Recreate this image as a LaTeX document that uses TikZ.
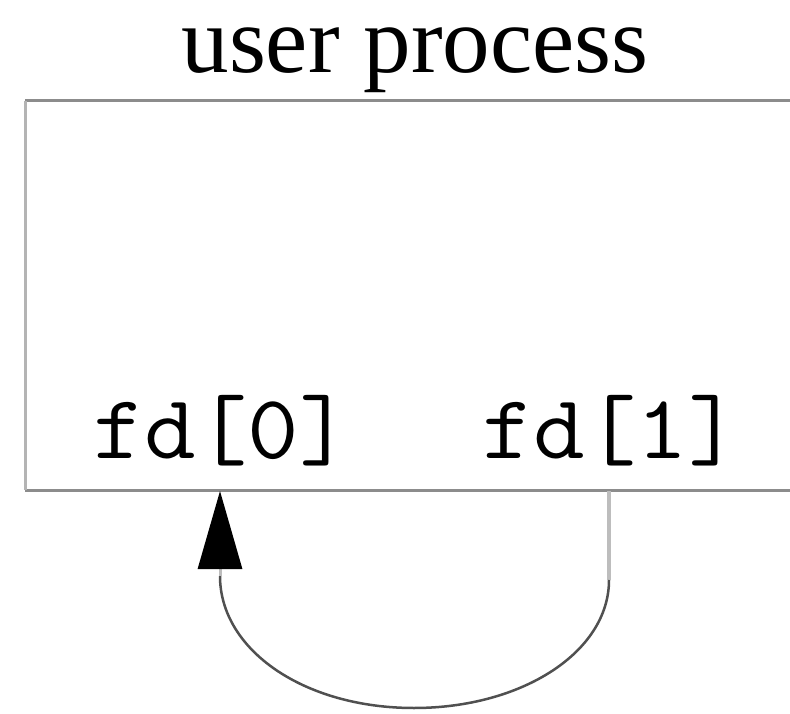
\documentclass[tikz,border=0pt]{standalone}
\usepackage{fontspec}
\setmainfont{Liberation Serif}
\usetikzlibrary{arrows.meta}
\definecolor{boxgray}{HTML}{8C8C8C}
\definecolor{leftgray}{HTML}{B4B4B4}
\definecolor{linegray}{HTML}{BDBDBD}
\definecolor{curvegray}{HTML}{505050}
\newcommand{\widecode}[1]{\scalebox{1.1}[1]{#1}}
\tikzset{
  label/.style={inner sep=0pt, anchor=base, font=\ttfamily\fontsize{91}{91}\selectfont},
  titlelbl/.style={inner sep=0pt, anchor=base, text height=44pt, text depth=20pt, font=\fontsize{95}{95}\selectfont},
  boxline/.style={draw=boxgray, line width=3pt},
  flow/.style={draw=curvegray, line width=2.5pt},
}
\begin{document}
\begin{tikzpicture}[x=1pt,y=-1pt]
\useasboundingbox (0,0) rectangle (790,714);
\clip (0,0) rectangle (790,714);
\fill[white] (0,0) rectangle (790,714);
% box
\draw[boxline] (815,101) -- (25,101);
\draw[boxline] (25,490) -- (815,490);
\draw[draw=leftgray, line width=3pt] (25,101) -- (25,490);
% texts
\node[titlelbl] (title) at (415,73) {user process};
\node[label] (fd0) at (222,458) {\widecode{fd[0]}};
\node[label] (fd1) at (611,458) {\widecode{fd[1]}};
% connector
\coordinate (dst) at (220,491);
\coordinate (srcdown) at (609,580);
\coordinate (bottom) at (414,708);
\coordinate (dstdown) at (220,576);
\draw[draw=linegray, line width=3.5pt] (609,491) -- (srcdown);
\draw[flow] (srcdown) .. controls (609,652) and (522,708) .. (bottom)
  .. controls (304,708) and (220,650) .. (dstdown);
\draw[draw=linegray, line width=3pt, -{Triangle[length=78pt,width=44pt,color=black]}] (dstdown) -- (dst);
\end{tikzpicture}
\end{document}
